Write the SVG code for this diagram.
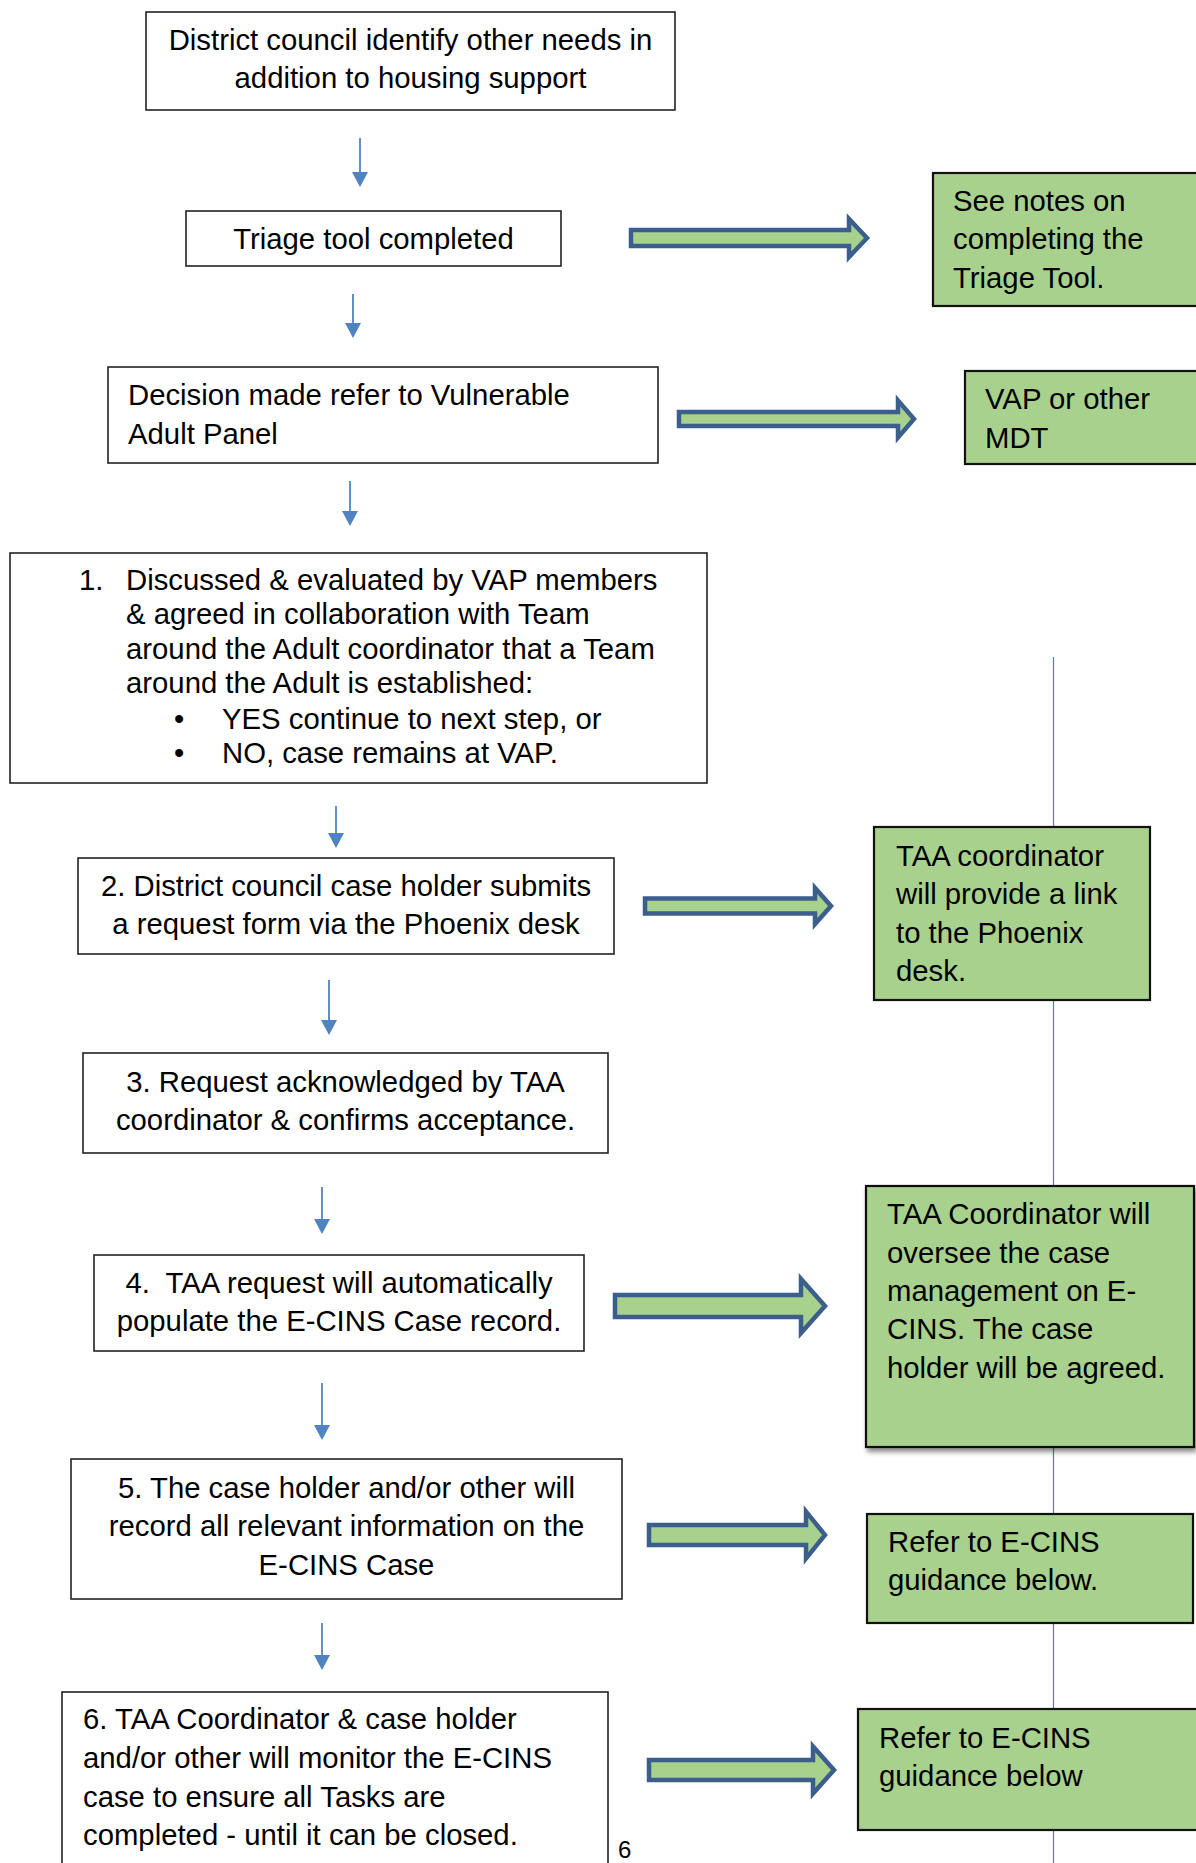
<svg xmlns="http://www.w3.org/2000/svg" width="1196" height="1863" viewBox="0 0 1196 1863">
<defs>
<style>
.t{font-family:"Liberation Sans",Arial,sans-serif;font-size:29.3px;fill:#000}
.c{text-anchor:middle}
.box{fill:#fff;stroke:#222;stroke-width:1.6}
.g{fill:#A9D18E;stroke:#111;stroke-width:2.2}
.blk{fill:#A9D18E;stroke:#3B5E8C;stroke-width:4.5;stroke-linejoin:miter}
.thin{stroke:#5083C2;stroke-width:1.8;fill:none}
.head{fill:#5083C2}
.vl{stroke:#4A7CC9;stroke-width:1.2}
</style>
<filter id="sh" x="-10%" y="-10%" width="130%" height="130%">
<feGaussianBlur in="SourceAlpha" stdDeviation="2.5"/>
<feOffset dx="2" dy="4" result="b"/>
<feComponentTransfer><feFuncA type="linear" slope="0.45"/></feComponentTransfer>
<feMerge><feMergeNode/><feMergeNode in="SourceGraphic"/></feMerge>
</filter>
</defs>
<rect width="1196" height="1863" fill="#fff"/>

<g id="side-line">
<line class="vl" x1="1053.5" y1="657" x2="1053.5" y2="1863"/>
</g>

<g id="connectors">
<line class="thin" x1="360" y1="138" x2="360" y2="172"/>
<path class="head" d="M352,172 L368,172 L360,187 Z"/>
<line class="thin" x1="353" y1="294" x2="353" y2="323"/>
<path class="head" d="M345,323 L361,323 L353,338 Z"/>
<line class="thin" x1="350" y1="481" x2="350" y2="511"/>
<path class="head" d="M342,511 L358,511 L350,526 Z"/>
<line class="thin" x1="336" y1="806" x2="336" y2="833"/>
<path class="head" d="M328,833 L344,833 L336,848 Z"/>
<line class="thin" x1="329" y1="980" x2="329" y2="1020"/>
<path class="head" d="M321,1020 L337,1020 L329,1035 Z"/>
<line class="thin" x1="322" y1="1187" x2="322" y2="1219"/>
<path class="head" d="M314,1219 L330,1219 L322,1234 Z"/>
<line class="thin" x1="322" y1="1383" x2="322" y2="1425"/>
<path class="head" d="M314,1425 L330,1425 L322,1440 Z"/>
<line class="thin" x1="322" y1="1623" x2="322" y2="1655"/>
<path class="head" d="M314,1655 L330,1655 L322,1670 Z"/>

<path class="blk" d="M631,230 L849,230 L849,219 L867,238 L849,257 L849,246 L631,246 Z"/>
<path class="blk" d="M679,412 L898,412 L898,400.5 L914,419 L898,437.5 L898,426 L679,426 Z"/>
<path class="blk" d="M645,898.5 L815,898.5 L815,888 L831,906 L815,924 L815,913.5 L645,913.5 Z"/>
<path class="blk" d="M615,1295 L801,1295 L801,1279 L825,1306 L801,1333 L801,1317 L615,1317 Z"/>
<path class="blk" d="M649,1525 L806,1525 L806,1511.5 L825,1535 L806,1558.5 L806,1545 L649,1545 Z"/>
<path class="blk" d="M649,1760 L813,1760 L813,1746.5 L834,1770 L813,1793.5 L813,1780 L649,1780 Z"/>
</g>

<g id="n-start">
<rect class="box" x="146" y="12" width="529" height="98"/>
<text class="t c" x="410.5" y="50">District council identify other needs in</text>
<text class="t c" x="410.5" y="88">addition to housing support</text>
</g>

<g id="n-triage">
<rect class="box" x="186" y="211" width="375" height="55"/>
<text class="t c" x="373.5" y="249">Triage tool completed</text>
</g>

<g id="n-decision">
<rect class="box" x="108" y="367" width="550" height="96"/>
<text class="t" x="128" y="405">Decision made refer to Vulnerable</text>
<text class="t" x="128" y="444">Adult Panel</text>
</g>

<g id="n-step1">
<rect class="box" x="10" y="553" width="697" height="230"/>
<text class="t" x="79" y="590">1.</text>
<text class="t" x="126" y="590">Discussed &amp; evaluated by VAP members</text>
<text class="t" x="126" y="624">&amp; agreed in collaboration with Team</text>
<text class="t" x="126" y="659">around the Adult coordinator that a Team</text>
<text class="t" x="126" y="693">around the Adult is established:</text>
<text class="t" x="174" y="729">•</text>
<text class="t" x="222" y="729">YES continue to next step, or</text>
<text class="t" x="174" y="763">•</text>
<text class="t" x="222" y="763">NO, case remains at VAP.</text>
</g>

<g id="n-step2">
<rect class="box" x="78" y="858" width="536" height="96"/>
<text class="t c" x="346" y="896">2. District council case holder submits</text>
<text class="t c" x="346" y="934">a request form via the Phoenix desk</text>
</g>

<g id="n-step3">
<rect class="box" x="83" y="1053" width="525" height="100"/>
<text class="t c" x="345.5" y="1092">3. Request acknowledged by TAA</text>
<text class="t c" x="345.5" y="1130">coordinator &amp; confirms acceptance.</text>
</g>

<g id="n-step4">
<rect class="box" x="94" y="1255" width="490" height="96"/>
<text class="t c" x="339" y="1293" xml:space="preserve">4.  TAA request will automatically</text>
<text class="t c" x="339" y="1331">populate the E-CINS Case record.</text>
</g>

<g id="n-step5">
<rect class="box" x="71" y="1459" width="551" height="140"/>
<text class="t c" x="346.5" y="1498">5. The case holder and/or other will</text>
<text class="t c" x="346.5" y="1536">record all relevant information on the</text>
<text class="t c" x="346.5" y="1575">E-CINS Case</text>
</g>

<g id="n-step6">
<rect class="box" x="62" y="1692" width="546" height="220"/>
<text class="t" x="83" y="1729">6. TAA Coordinator &amp; case holder</text>
<text class="t" x="83" y="1768">and/or other will monitor the E-CINS</text>
<text class="t" x="83" y="1807">case to ensure all Tasks are</text>
<text class="t" x="83" y="1845">completed - until it can be closed.</text>
</g>

<g id="page-number">
<text class="t" x="618" y="1858" style="font-size:24px">6</text>
</g>

<g id="n-note-triage">
<rect class="g" x="933" y="173" width="290" height="133"/>
<text class="t" x="953" y="211">See notes on</text>
<text class="t" x="953" y="249">completing the</text>
<text class="t" x="953" y="288">Triage Tool.</text>
</g>

<g id="n-note-vap">
<rect class="g" x="965" y="371" width="260" height="93"/>
<text class="t" x="985" y="409">VAP or other</text>
<text class="t" x="985" y="448">MDT</text>
</g>

<g id="n-note-link">
<rect class="g" x="874" y="827" width="276" height="173"/>
<text class="t" x="896" y="866">TAA coordinator</text>
<text class="t" x="896" y="904">will provide a link</text>
<text class="t" x="896" y="943">to the Phoenix</text>
<text class="t" x="896" y="981">desk.</text>
</g>

<g id="n-note-oversee">
<rect class="g" x="866" y="1186" width="328" height="261" filter="url(#sh)"/>
<text class="t" x="887" y="1224">TAA Coordinator will</text>
<text class="t" x="887" y="1263">oversee the case</text>
<text class="t" x="887" y="1301">management on E-</text>
<text class="t" x="887" y="1339">CINS. The case</text>
<text class="t" x="887" y="1378">holder will be agreed.</text>
</g>

<g id="n-note-guidance1">
<rect class="g" x="867" y="1514" width="326" height="109"/>
<text class="t" x="888" y="1552">Refer to E-CINS</text>
<text class="t" x="888" y="1590">guidance below.</text>
</g>

<g id="n-note-guidance2">
<rect class="g" x="858" y="1709" width="360" height="121"/>
<text class="t" x="879" y="1748">Refer to E-CINS</text>
<text class="t" x="879" y="1786">guidance below</text>
</g>
</svg>
